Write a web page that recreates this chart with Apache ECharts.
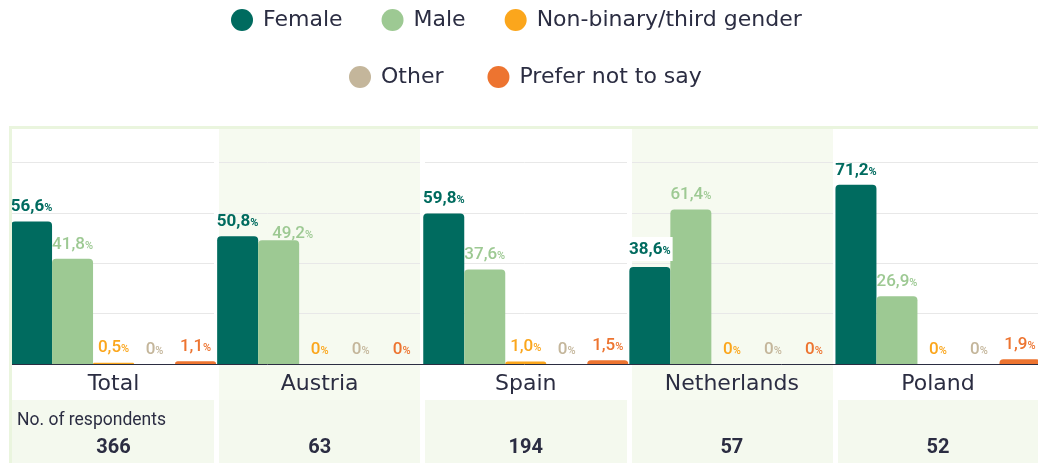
<!DOCTYPE html>
<html>
<head>
<meta charset="utf-8">
<script src="https://cdn.jsdelivr.net/npm/echarts@6/dist/echarts.min.js"></script>
<style>
html, body { margin: 0; padding: 0; background: #fff; }
#chart { width: 1038px; height: 463px; }
</style>
</head>
<body>
<div id="chart"></div>
<script>
// data
const countries = ['Total', 'Austria', 'Spain', 'Netherlands', 'Poland']
const respondents = [366, 63, 194, 57, 52]
const female = [56.6, 50.8, 59.8, 38.6, 71.2]
const male = [41.8, 49.2, 37.6, 61.4, 26.9]
const nonBinary = [0.5, 0, 1.0, 0, 0]
const other = [0, 0, 0, 0, 0]
const preferNot = [1.1, 0, 1.5, 0, 1.9]

const seriesNames = ['Female', 'Male', 'Non-binary/third gender', 'Other', 'Prefer not to say']
const seriesColors = ['#006b5f', '#9dc993', '#fba61c', '#c4b69b', '#ed7430']

const mainFont = '"DejaVu Sans", sans-serif'
const narrowFont = 'Roboto, sans-serif'
const ink = '#2b2d42'

// all grids share left/right so the bands line up
const L = 10.5
const R = -3

function fmt(v) {
  return v === 0 ? '0' : v.toFixed(1).replace('.', ',')
}

// a few labels are nudged in the original so they don't collide
function labelTweak(name, i) {
  if (name === 'Female' && i === 3) {
    return { backgroundColor: '#fff', padding: [4, 2, 3, 2] }
  }
  if (name === 'Male' && i === 1) {
    return { offset: [14, 8] }
  }
  return null
}

function makeSeries(name, values, color, bold) {
  return {
    name: name,
    type: 'bar',
    xAxisIndex: 1,
    yAxisIndex: 1,
    z: 3,
    barWidth: 41,
    barGap: 0,
    itemStyle: { color: color, borderRadius: [4, 4, 0, 0] },
    label: {
      show: true,
      position: 'top',
      distance: 6,
      formatter: (p) => '{v|' + fmt(p.value) + '}{p|%}',
      rich: {
        v: { fontFamily: narrowFont, fontSize: 17, fontWeight: bold ? 'bold' : 500, color: color },
        p: { fontFamily: narrowFont, fontSize: 11, fontWeight: bold ? 'bold' : 500, color: color, padding: [3, 0, 0, 0] },
      },
    },
    data: values.map((v, i) => {
      const tweak = labelTweak(name, i)
      return tweak ? { value: v, label: tweak } : v
    }),
  }
}

const legendText = { fontFamily: mainFont, fontSize: 22, color: ink, padding: [0, 0, 0, 5] }

const chart = echarts.init(document.getElementById('chart'))
chart.setOption({
  animation: false,
  title: {
    text: 'No. of respondents',
    left: 17,
    top: 412,
    padding: 0,
    textStyle: { fontFamily: narrowFont, fontSize: 17.5, fontWeight: 'normal', color: ink },
  },
  legend: [
    {
      data: seriesNames.slice(0, 3),
      icon: 'circle',
      left: 231,
      top: 9,
      padding: 0,
      itemWidth: 22,
      itemHeight: 22,
      itemGap: 39,
      textStyle: legendText,
    },
    {
      data: seriesNames.slice(3),
      icon: 'circle',
      left: 349,
      top: 66,
      padding: 0,
      itemWidth: 22,
      itemHeight: 22,
      itemGap: 44,
      textStyle: legendText,
    },
  ],
  grid: [
    // background bands + frame
    { left: L, right: R, top: 127.5, bottom: -10, outerBoundsMode: 'none', show: true, borderColor: '#eaf5de', borderWidth: 3, z: 4 },
    // bars
    { left: L, right: R, top: 127.5, bottom: 99, outerBoundsMode: 'none' },
    // respondents row
    { left: L, right: R, top: 400, bottom: 0, outerBoundsMode: 'none' },
  ],
  xAxis: [
    {
      gridIndex: 0,
      type: 'category',
      data: countries,
      z: 0,
      axisLine: { show: false },
      axisTick: { show: false },
      axisLabel: { show: false },
      splitArea: { show: true, areaStyle: { color: ['#ffffff', '#f6faf0'] } },
      splitLine: { show: true, showMinLine: false, showMaxLine: false, lineStyle: { color: '#fff', width: 5 } },
    },
    {
      gridIndex: 1,
      type: 'category',
      data: countries,
      z: 2,
      axisLine: { lineStyle: { color: ink, width: 1 } },
      axisTick: { show: false },
      axisLabel: { fontFamily: mainFont, fontSize: 22, color: ink, margin: 9 },
      splitLine: { show: true, showMinLine: false, showMaxLine: false, lineStyle: { color: '#fff', width: 5 } },
    },
    {
      gridIndex: 2,
      type: 'category',
      data: countries,
      z: 1,
      axisLine: { show: false },
      axisTick: { show: false },
      axisLabel: {
        inside: true,
        margin: 5,
        verticalAlign: 'bottom',
        fontFamily: narrowFont,
        fontSize: 20,
        fontWeight: 'bold',
        color: ink,
        formatter: (v, i) => String(respondents[i]),
      },
      splitArea: { show: true, areaStyle: { color: ['#f4f9ee'] } },
      splitLine: { show: true, showMinLine: false, showMaxLine: false, lineStyle: { color: '#fff', width: 5 } },
    },
  ],
  yAxis: [
    { gridIndex: 0, type: 'value', min: 0, max: 1, show: false },
    {
      gridIndex: 1,
      type: 'value',
      min: 0,
      max: 94,
      interval: 20,
      z: 1,
      axisLine: { show: false },
      axisTick: { show: false },
      axisLabel: { show: false },
      splitLine: { showMinLine: false, showMaxLine: false, lineStyle: { color: '#e8e8e8', width: 1 } },
    },
    { gridIndex: 2, type: 'value', min: 0, max: 1, show: false },
  ],
  series: [
    makeSeries(seriesNames[0], female, seriesColors[0], true),
    makeSeries(seriesNames[1], male, seriesColors[1], false),
    makeSeries(seriesNames[2], nonBinary, seriesColors[2], false),
    makeSeries(seriesNames[3], other, seriesColors[3], false),
    makeSeries(seriesNames[4], preferNot, seriesColors[4], false),
  ],
})
</script>
</body>
</html>
